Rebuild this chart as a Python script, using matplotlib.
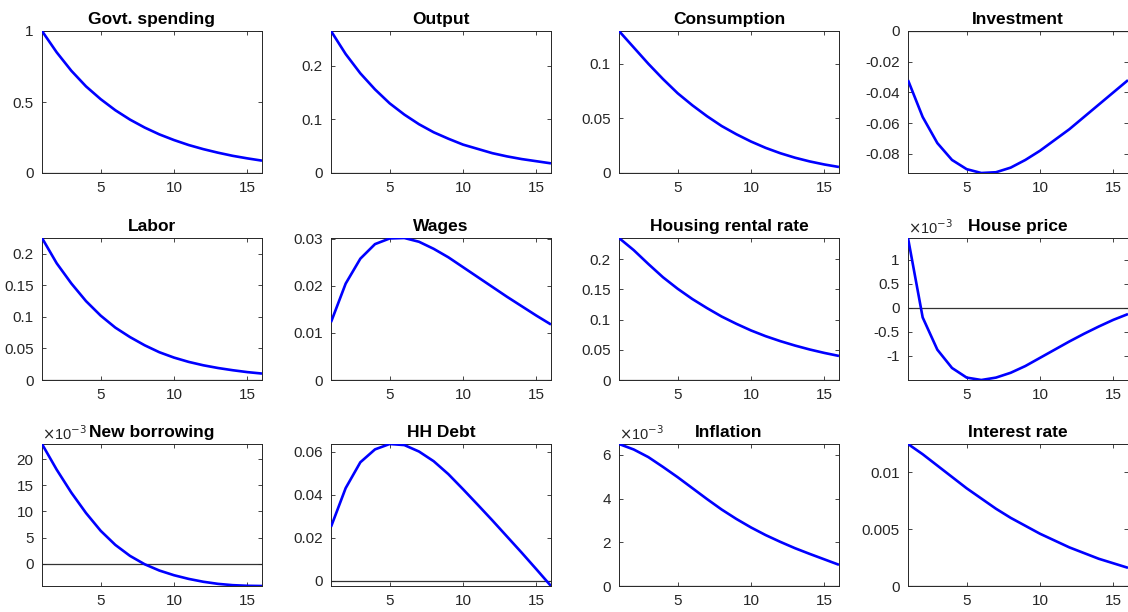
import matplotlib
matplotlib.use("Agg")
import matplotlib.pyplot as plt
from matplotlib.ticker import FuncFormatter
import numpy as np

plt.rcParams['font.family'] = ['Liberation Sans', 'DejaVu Sans']

periods = list(range(1, 17))

titles = ["Govt. spending", "Output", "Consumption", "Investment",
          "Labor", "Wages", "Housing rental rate", "House price",
          "New borrowing", "HH Debt", "Inflation", "Interest rate"]

govt_spending = [1.0, 0.85, 0.72, 0.61, 0.52, 0.442, 0.376, 0.320, 0.272, 0.232, 0.197, 0.168, 0.143, 0.121, 0.103, 0.087]
output = [0.265, 0.222, 0.186, 0.156, 0.130, 0.109, 0.091, 0.076, 0.064, 0.053, 0.045, 0.037, 0.031, 0.026, 0.022, 0.018]
consumption = [0.13, 0.115, 0.1, 0.086, 0.073, 0.062, 0.052, 0.043, 0.0355, 0.0288, 0.0230, 0.0181, 0.0140, 0.0106, 0.0078, 0.0055]
investment = [-0.032, -0.056, -0.073, -0.084, -0.090, -0.0925, -0.092, -0.089, -0.084, -0.078, -0.071, -0.064, -0.056, -0.048, -0.040, -0.032]
labor = [0.225, 0.185, 0.153, 0.125, 0.102, 0.083, 0.068, 0.055, 0.044, 0.0355, 0.0287, 0.0233, 0.0190, 0.0155, 0.0125, 0.0102]
wages = [0.0123, 0.0205, 0.0258, 0.0289, 0.0301, 0.0302, 0.0294, 0.0279, 0.0261, 0.0240, 0.0219, 0.0198, 0.0177, 0.0157, 0.0137, 0.0118]
housing_rental = [0.235, 0.215, 0.192, 0.17, 0.151, 0.134, 0.119, 0.105, 0.093, 0.082, 0.0725, 0.0643, 0.0570, 0.0505, 0.0448, 0.0398]
house_price = [1.45e-3, -0.2e-3, -0.87e-3, -1.25e-3, -1.45e-3, -1.50e-3, -1.45e-3, -1.35e-3, -1.21e-3, -1.04e-3, -0.87e-3, -0.70e-3, -0.54e-3, -0.39e-3, -0.25e-3, -0.13e-3]
new_borrowing = [22.9e-3, 18.0e-3, 13.6e-3, 9.7e-3, 6.3e-3, 3.6e-3, 1.5e-3, -0.1e-3, -1.3e-3, -2.2e-3, -2.9e-3, -3.45e-3, -3.85e-3, -4.1e-3, -4.22e-3, -4.26e-3]
hh_debt = [0.025, 0.043, 0.055, 0.061, 0.0635, 0.063, 0.060, 0.0555, 0.0495, 0.0425, 0.0353, 0.028, 0.0205, 0.013, 0.0053, -0.0025]
inflation = [6.5e-3, 6.25e-3, 5.9e-3, 5.45e-3, 4.98e-3, 4.48e-3, 3.98e-3, 3.5e-3, 3.07e-3, 2.68e-3, 2.33e-3, 2.02e-3, 1.73e-3, 1.47e-3, 1.22e-3, 0.97e-3]
interest_rate = [0.0125, 0.0116, 0.0106, 0.0096, 0.0086, 0.0077, 0.0068, 0.0060, 0.0053, 0.0046, 0.0040, 0.0034, 0.0029, 0.0024, 0.0020, 0.0016]

series = [govt_spending, output, consumption, investment, labor, wages,
          housing_rental, house_price, new_borrowing, hh_debt, inflation, interest_rate]

yticks = [[0, 0.5, 1], [0, 0.1, 0.2], [0, 0.05, 0.1], [-0.08, -0.06, -0.04, -0.02, 0],
          [0, 0.05, 0.1, 0.15, 0.2], [0, 0.01, 0.02, 0.03], [0, 0.05, 0.1, 0.15, 0.2],
          [-1e-3, -0.5e-3, 0, 0.5e-3, 1e-3], [0, 5e-3, 10e-3, 15e-3, 20e-3],
          [0, 0.02, 0.04, 0.06], [0, 2e-3, 4e-3, 6e-3], [0, 0.005, 0.01]]
scaled = [False] * 7 + [True, True, False, True, False]

W, H = 1128, 612
fig = plt.figure(figsize=(W / 100, H / 100), dpi=100)
lefts = [42, 331, 619, 908]
tops = [31, 238, 444]
aw, ah = 220, 142
axcol = '#262626'

def fmt_plain(v, pos):
    return "%g" % round(v, 6)

def fmt_scaled(v, pos):
    return "%g" % round(v * 1e3, 6)

for i, (t, y) in enumerate(zip(titles, series)):
    r, c = divmod(i, 4)
    ax = fig.add_axes([lefts[c] / W, 1 - (tops[r] + ah) / H, aw / W, ah / H])
    y = np.array(y)
    ax.axhline(0, color='#333333', lw=0.9, zorder=1)
    ax.plot(periods, y, color='#0000FF', lw=1.9, zorder=3, solid_capstyle='butt')
    ax.set_xlim(1, 16)
    ax.set_ylim(min(y.min(), 0), max(y.max(), 0))
    ax.set_xticks([5, 10, 15])
    ax.set_yticks(yticks[i])
    ax.yaxis.set_major_formatter(FuncFormatter(fmt_scaled if scaled[i] else fmt_plain))
    ax.xaxis.set_major_formatter(FuncFormatter(fmt_plain))
    ax.tick_params(direction='in', length=3, width=0.6, top=True, right=True,
                   labelsize=11, colors=axcol, pad=6)
    for s in ax.spines.values():
        s.set_color(axcol)
        s.set_linewidth(0.7)
    ax.set_title(t, fontsize=12.5, fontweight='bold', pad=5)
    if scaled[i]:
        ax.text(0.0, 1.01, r'$\times$10$^{-3}$', transform=ax.transAxes,
                ha='left', va='bottom', fontsize=10.5, color=axcol)

fig.savefig('out.png', dpi=100)
